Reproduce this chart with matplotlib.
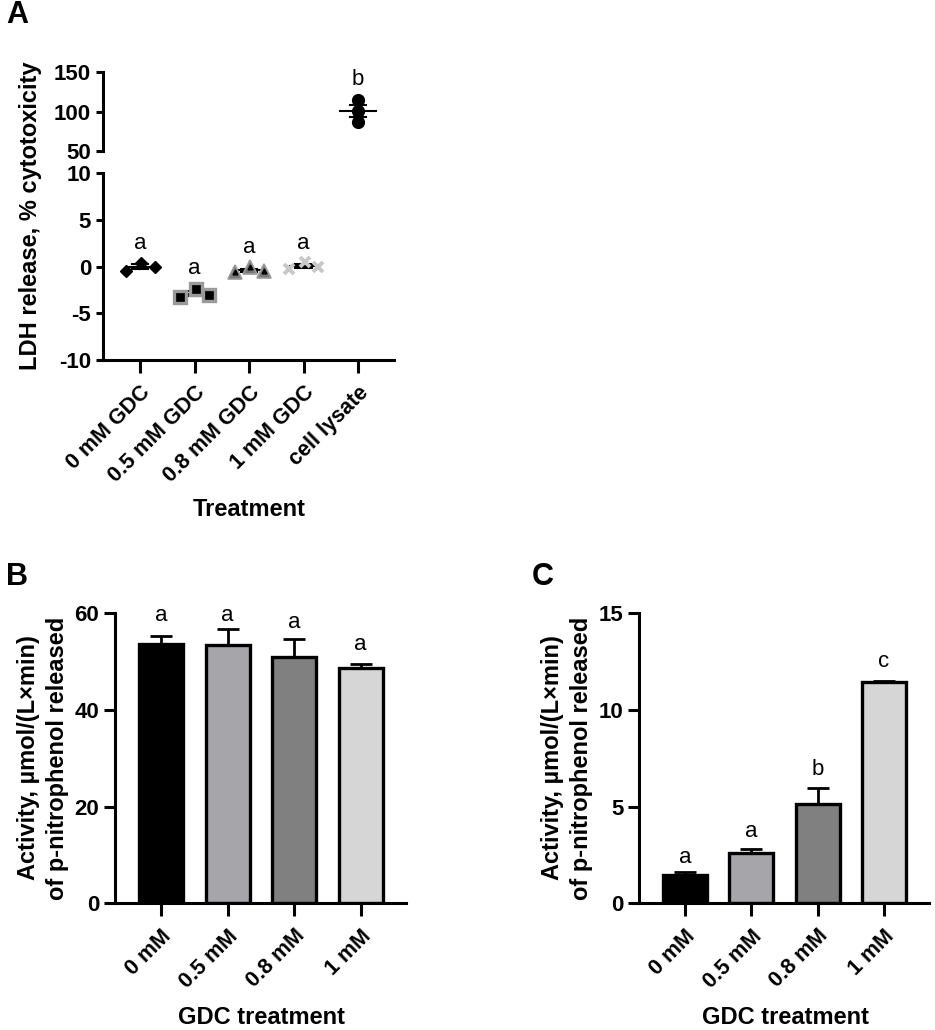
import matplotlib
matplotlib.use("Agg")
import matplotlib.pyplot as plt
import numpy as np

plt.rcParams['font.family'] = ['Liberation Sans', 'DejaVu Sans']
plt.rcParams['axes.unicode_minus'] = False

# ---------------- data ----------------
a_categories = ["0 mM GDC", "0.5 mM GDC", "0.8 mM GDC", "1 mM GDC", "cell lysate"]
a_values = [
    [-0.43, 0.40, 0.00],
    [-3.30, -2.40, -3.00],
    [-0.60, -0.10, -0.50],
    [-0.25, 0.45, 0.00],
    [114.0, 101.0, 86.5],
]
a_letters = ["a", "a", "a", "a", "b"]
a_letter_y = [2.5, -0.2, 2.0, 2.5, 140.0]

bc_categories = ["0 mM", "0.5 mM", "0.8 mM", "1 mM"]
b_means = [53.6, 53.4, 51.0, 48.7]
b_err = [1.7, 3.3, 3.6, 0.8]
b_letters = ["a", "a", "a", "a"]
b_letter_y = [59.6, 59.6, 58.0, 53.5]

c_means = [1.46, 2.62, 5.13, 11.44]
c_err = [0.14, 0.20, 0.85, 0.07]
c_letters = ["a", "a", "b", "c"]
c_letter_y = [2.36, 3.70, 6.93, 12.50]

bar_colors = ["#000000", "#a5a5aa", "#808080", "#d6d6d6"]

# ---------------- figure ----------------
W, H = 935, 1030
fig = plt.figure(figsize=(W / 100, H / 100), dpi=100)

def px_axes(x0, y0, x1, y1):
    return fig.add_axes([x0 / W, 1 - y1 / H, (x1 - x0) / W, (y1 - y0) / H])

LW = 2.2
TICK_FS = 16
XT_FS = 15.5
LAB_FS = 17
LET_FS = 16

def style(ax, bottom=True, ylen=7, xlen=9):
    for s in ["top", "right"]:
        ax.spines[s].set_visible(False)
    ax.spines["left"].set_linewidth(LW)
    if bottom:
        ax.spines["bottom"].set_linewidth(LW)
    else:
        ax.spines["bottom"].set_visible(False)
    ax.tick_params(axis="y", width=LW, length=ylen, labelsize=TICK_FS, pad=3.5)
    ax.tick_params(axis="x", width=LW, length=xlen, labelsize=XT_FS, pad=7)

# ---------------- panel A ----------------
xlimA = (-0.68, 4.66)
axU = px_axes(103, 72, 394, 151)
axL = px_axes(103, 173, 394, 360)
for ax in (axU, axL):
    ax.set_xlim(*xlimA)
axU.set_ylim(50, 150)
axU.set_yticks([50, 100, 150])
axL.set_ylim(-10, 10)
axL.set_yticks([-10, -5, 0, 5, 10])
style(axU, bottom=False, ylen=5)
style(axL, ylen=5, xlen=9)
axU.set_xticks([])
axL.set_xticks(range(len(a_categories)))
axL.set_xticklabels(a_categories, rotation=45, ha="right", va="top",
                    rotation_mode="anchor", fontweight="bold")
for t in axL.get_yticklabels() + axU.get_yticklabels():
    t.set_fontweight("bold")

offsets = [-0.26, 0.02, 0.27]
marker_styles = [
    dict(marker="D", ms=6.5, mfc="black", mec="black", mew=1),
    dict(marker="s", ms=8, mfc="black", mec="#9a9a9a", mew=2.4),
    dict(marker="^", ms=9.5, mfc="#7a7a7a", mec="#9a9a9a", mew=1.2),
    dict(marker="x", ms=7.5, mfc="none", mec="#c8c8c8", mew=2.8),
    dict(marker="o", ms=8.5, mfc="black", mec="black", mew=1),
]
for i, vals in enumerate(a_values):
    ax = axU if i == 4 else axL
    m = np.mean(vals)
    sem = np.std(vals, ddof=1) / np.sqrt(len(vals))
    mw = 0.33 if i == 4 else 0.25
    sw = 0.15
    ax.plot([i - mw, i + mw], [m, m], color="black", lw=1.5, zorder=3)
    ax.plot([i - sw, i + sw], [m + sem, m + sem], color="black", lw=1.5, zorder=3)
    ax.plot([i - sw, i + sw], [m - sem, m - sem], color="black", lw=1.5, zorder=3)
    ax.plot([i, i], [m - sem, m + sem], color="black", lw=1.5, zorder=3)
    for j, v in enumerate(vals):
        xo = 0 if i == 4 else offsets[j]
        ax.plot([i + xo], [v], linestyle="none", zorder=4, clip_on=False, **marker_styles[i])
        if i == 2:
            ax.plot([i + xo], [v], linestyle="none", marker="^", ms=3.5, color="black", zorder=5)
    ax.text(i, a_letter_y[i], a_letters[i], ha="center", va="center", fontsize=LET_FS)

fig.text(31 / W, 1 - 216 / H, "LDH release, % cytotoxicity", rotation=90,
         ha="center", va="center", fontsize=LAB_FS, fontweight="bold")
fig.text(249 / W, 1 - 510 / H, "Treatment", ha="center", va="center",
         fontsize=LAB_FS, fontweight="bold")
fig.text(6 / W, 1 - 15 / H, "A", ha="left", va="center", fontsize=22, fontweight="bold")

# ---------------- panels B and C ----------------
def bar_panel(x0, x1, means, errs, letters, letter_y, ymax, yticks, lab_x, xl_x, tag, tag_x):
    ax = px_axes(x0, 613.3, x1, 903.3)
    x = np.arange(len(bc_categories))
    ax.bar(x, means, width=0.66, color=bar_colors, edgecolor="black", linewidth=2.4, zorder=2)
    ax.errorbar(x, means, yerr=[np.zeros(len(errs)), errs], fmt="none", ecolor="black",
                elinewidth=2.0, capsize=8, capthick=2.0, zorder=1)
    ax.set_xlim(-0.69, 3.68)
    ax.set_ylim(0, ymax)
    ax.set_yticks(yticks)
    style(ax, ylen=8, xlen=9)
    ax.set_xticks(x)
    ax.set_xticklabels(bc_categories, rotation=45, ha="right", va="top",
                       rotation_mode="anchor", fontweight="bold")
    for t in ax.get_yticklabels():
        t.set_fontweight("bold")
    for i in x:
        ax.text(i, letter_y[i], letters[i], ha="center", va="center", fontsize=LET_FS)
    fig.text(lab_x / W, 1 - 758 / H, "Activity, µmol/(L×min)\nof p-nitrophenol released",
             rotation=90, ha="center", va="center", fontsize=LAB_FS, fontweight="bold",
             linespacing=1.3, multialignment="center")
    fig.text(xl_x / W, 1 - 1017 / H, "GDC treatment", ha="center", va="center",
             fontsize=LAB_FS, fontweight="bold")
    fig.text(tag_x / W, 1 - 577 / H, tag, ha="left", va="center", fontsize=22, fontweight="bold")
    return ax

bar_panel(115, 406, b_means, b_err, b_letters, b_letter_y, 60, [0, 20, 40, 60], 43, 262, "B", 6)
bar_panel(639.3, 929, c_means, c_err, c_letters, c_letter_y, 15, [0, 5, 10, 15], 567, 785, "C", 532)

fig.savefig("out.png", dpi=100)
